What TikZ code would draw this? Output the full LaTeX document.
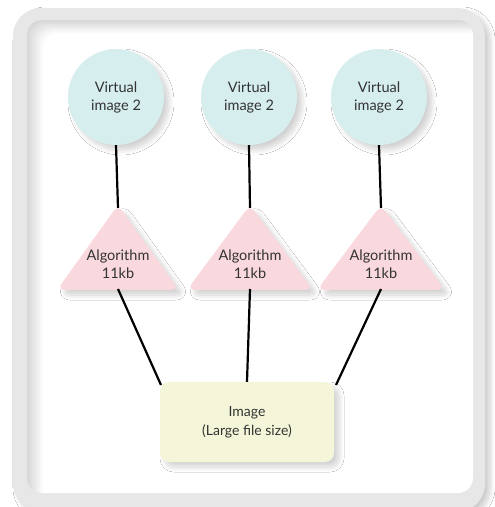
\documentclass[tikz,border=0pt]{standalone}
\usepackage{fontspec}
\setmainfont{Lato}
\usetikzlibrary{shadows.blur}
\definecolor{framegray}{HTML}{E7E7E7}
\definecolor{circfill}{HTML}{D7EEEE}
\definecolor{trifill}{HTML}{F9D9DE}
\definecolor{boxfill}{HTML}{F5F6D9}
\definecolor{txt}{HTML}{333333}
\tikzset{
  soft/.style={blur shadow={shadow xshift=5pt, shadow yshift=-5pt, shadow blur steps=10, shadow blur radius=5pt, shadow opacity=18}},
  vcirc/.style={circle, fill=circfill, minimum size=96pt, inner sep=0pt, align=center, text=txt, font=\fontsize{14.5}{18}\selectfont, soft},
  tritext/.style={align=center, text=txt, font=\fontsize{14.5}{18}\selectfont, inner sep=0pt},
  tripath/.style={fill=trifill, rounded corners=8pt, soft},
  imgbox/.style={rectangle, rounded corners=9pt, fill=boxfill, minimum width=174pt, minimum height=80pt, align=center, text=txt, font=\fontsize{14}{19}\selectfont, soft},
  conn/.style={line width=2.2pt, black}
}
\begin{document}
\begin{tikzpicture}[x=1pt,y=-1pt]
\useasboundingbox (0,0) rectangle (495,507);
\fill[white] (0,0) rectangle (495,507);
% frame
\fill[framegray, rounded corners=28pt, blur shadow={shadow xshift=5pt, shadow yshift=-4pt, shadow blur steps=10, shadow blur radius=5pt, shadow opacity=20}] (13,8) rectangle (485,512);
\fill[white, rounded corners=15pt] (27,20) rectangle (473,493);
\begin{scope}
  \clip[rounded corners=15pt] (27,20) rectangle (473,493);
  \foreach \k in {1,...,10}
    \fill[black, opacity=0.014, even odd rule, rounded corners=15pt]
      (0,0) rectangle (495,507)
      (27+1.6*\k,20+1.3*\k) rectangle (520,530);
\end{scope}
% circles
\node[vcirc] (c1) at (116,97) {Virtual\\image 2};
\node[vcirc] (c2) at (249,97) {Virtual\\image 2};
\node[vcirc] (c3) at (379,97) {Virtual\\image 2};
% triangles
\fill[tripath] (118,205) -- (179,290) -- (57,290) -- cycle;
\fill[tripath] (250,205) -- (313,290) -- (187,290) -- cycle;
\fill[tripath] (381,205) -- (445,290) -- (317,290) -- cycle;
\node[tritext] (a1) at (118,264) {Algorithm\\11kb};
\node[tritext] (a2) at (250,264) {Algorithm\\11kb};
\node[tritext] (a3) at (381,264) {Algorithm\\11kb};
\coordinate (t1top) at (118,208);
\coordinate (t2top) at (250,208);
\coordinate (t3top) at (381,208);
\coordinate (t1bot) at (118,289);
\coordinate (t2bot) at (250,289);
\coordinate (t3bot) at (381,289);
% image box
\node[imgbox] (img) at (247,422) {Image\\(Large file size)};
\coordinate (imgL) at (161,385);
\coordinate (imgR) at (336,385);
% connectors
\draw[conn] (c1.south) -- (t1top);
\draw[conn] (c2.south) -- (t2top);
\draw[conn] (c3.south) -- (t3top);
\draw[conn] (t1bot) -- (imgL);
\draw[conn] (t2bot) -- (img.north);
\draw[conn] (t3bot) -- (imgR);
\end{tikzpicture}
\end{document}
